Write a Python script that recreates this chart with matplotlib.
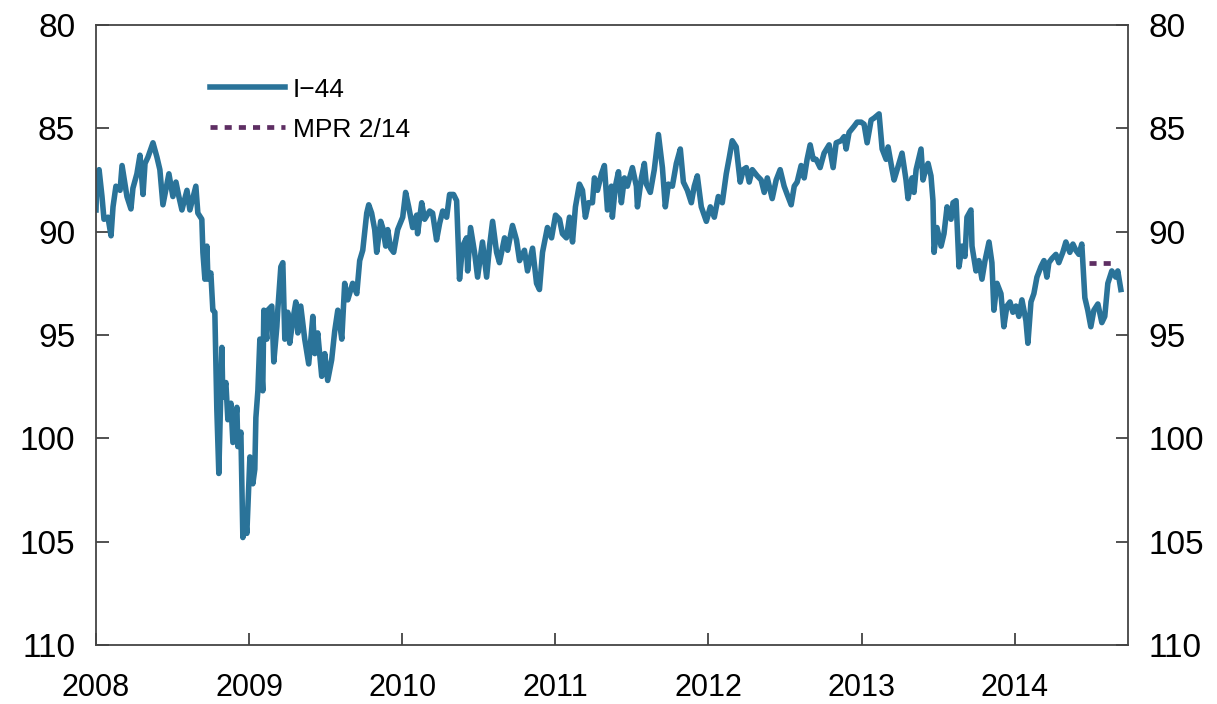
import numpy as np
import matplotlib
matplotlib.use("Agg")
import matplotlib.pyplot as plt

plt.rcParams["font.family"] = ["Liberation Sans", "DejaVu Sans"]

# I-44 index (decimal year, index value)
years = [
    2008.000, 2008.004, 2008.020, 2008.039, 2008.052, 2008.078, 2008.098, 2008.111,
    2008.130, 2008.157, 2008.170, 2008.202, 2008.228, 2008.241, 2008.267, 2008.287,
    2008.307, 2008.320, 2008.339, 2008.372, 2008.398, 2008.417, 2008.437, 2008.476,
    2008.502, 2008.522, 2008.541, 2008.561, 2008.594, 2008.613, 2008.652, 2008.665,
    2008.691, 2008.698, 2008.711, 2008.724, 2008.731, 2008.750, 2008.763, 2008.776,
    2008.789, 2008.802, 2008.822, 2008.828, 2008.848, 2008.861, 2008.881, 2008.894,
    2008.920, 2008.926, 2008.946, 2008.959, 2008.972, 2008.985, 2009.005, 2009.024,
    2009.037, 2009.044, 2009.057, 2009.070, 2009.089, 2009.096, 2009.115, 2009.122,
    2009.148, 2009.161, 2009.181, 2009.187, 2009.207, 2009.220, 2009.233, 2009.252,
    2009.265, 2009.285, 2009.305, 2009.318, 2009.337, 2009.350, 2009.363, 2009.389,
    2009.416, 2009.429, 2009.448, 2009.474, 2009.494, 2009.513, 2009.539, 2009.559,
    2009.579, 2009.605, 2009.624, 2009.644, 2009.676, 2009.703, 2009.722, 2009.742,
    2009.768, 2009.781, 2009.800, 2009.820, 2009.833, 2009.859, 2009.872, 2009.892,
    2009.905, 2009.924, 2009.944, 2009.970, 2010.003, 2010.022, 2010.042, 2010.068,
    2010.094, 2010.100, 2010.127, 2010.146, 2010.179, 2010.198, 2010.224, 2010.244,
    2010.264, 2010.290, 2010.309, 2010.335, 2010.355, 2010.374, 2010.394, 2010.420,
    2010.427, 2010.446, 2010.472, 2010.492, 2010.524, 2010.551, 2010.570, 2010.590,
    2010.616, 2010.635, 2010.668, 2010.688, 2010.720, 2010.746, 2010.766, 2010.798,
    2010.818, 2010.851, 2010.877, 2010.896, 2010.916, 2010.948, 2010.975, 2011.001,
    2011.027, 2011.046, 2011.072, 2011.092, 2011.112, 2011.131, 2011.157, 2011.177,
    2011.196, 2011.216, 2011.242, 2011.255, 2011.275, 2011.301, 2011.320, 2011.340,
    2011.366, 2011.372, 2011.392, 2011.412, 2011.431, 2011.451, 2011.470, 2011.503,
    2011.529, 2011.536, 2011.562, 2011.581, 2011.594, 2011.620, 2011.646, 2011.673,
    2011.699, 2011.718, 2011.738, 2011.764, 2011.790, 2011.816, 2011.836, 2011.862,
    2011.888, 2011.907, 2011.927, 2011.953, 2011.986, 2012.012, 2012.038, 2012.064,
    2012.090, 2012.116, 2012.136, 2012.155, 2012.181, 2012.207, 2012.227, 2012.247,
    2012.266, 2012.286, 2012.318, 2012.344, 2012.364, 2012.384, 2012.416, 2012.442,
    2012.468, 2012.494, 2012.514, 2012.540, 2012.560, 2012.579, 2012.605, 2012.625,
    2012.644, 2012.664, 2012.684, 2012.703, 2012.729, 2012.755, 2012.788, 2012.814,
    2012.834, 2012.866, 2012.886, 2012.899, 2012.918, 2012.951, 2012.971, 2012.997,
    2013.016, 2013.036, 2013.062, 2013.082, 2013.114, 2013.134, 2013.160, 2013.173,
    2013.199, 2013.212, 2013.232, 2013.264, 2013.290, 2013.303, 2013.329, 2013.342,
    2013.356, 2013.388, 2013.401, 2013.421, 2013.434, 2013.453, 2013.466, 2013.473,
    2013.492, 2013.519, 2013.538, 2013.558, 2013.584, 2013.597, 2013.617, 2013.636,
    2013.656, 2013.675, 2013.688, 2013.714, 2013.721, 2013.747, 2013.766, 2013.786,
    2013.806, 2013.832, 2013.851, 2013.864, 2013.884, 2013.910, 2013.929, 2013.949,
    2013.969, 2013.988, 2014.008, 2014.027, 2014.047, 2014.073, 2014.086, 2014.106,
    2014.125, 2014.145, 2014.171, 2014.191, 2014.210, 2014.223, 2014.243, 2014.269,
    2014.288, 2014.314, 2014.334, 2014.360, 2014.380, 2014.399, 2014.419, 2014.438,
    2014.458, 2014.477, 2014.497, 2014.517, 2014.543, 2014.569, 2014.588, 2014.608,
    2014.634, 2014.660, 2014.673, 2014.693,
]
i44 = [
    88.95, 87.8, 87.0, 88.3, 89.4, 89.3, 90.2, 88.8,
    87.8, 88.0, 86.8, 88.3, 88.9, 87.9, 87.2, 86.3,
    88.2, 86.7, 86.4, 85.7, 86.4, 87.0, 88.7, 87.2,
    88.3, 87.6, 88.3, 88.95, 88.0, 88.95, 87.8, 89.1,
    89.4, 91.0, 92.3, 90.7, 92.3, 92.0, 93.8, 93.9,
    98.6, 101.7, 95.6, 98.0, 97.3, 99.1, 98.3, 100.2,
    98.5, 100.4, 99.7, 104.8, 103.6, 104.6, 100.9, 102.2,
    101.5, 99.0, 97.7, 95.2, 97.7, 93.8, 95.2, 93.8,
    93.6, 96.3, 94.6, 93.8, 91.7, 91.5, 95.2, 93.9,
    95.4, 94.3, 93.4, 94.9, 93.6, 94.4, 95.2, 96.4,
    94.1, 95.9, 94.9, 97.0, 95.9, 97.2, 96.2, 94.8,
    93.8, 95.2, 92.5, 93.3, 92.5, 93.0, 91.4, 90.9,
    89.1, 88.7, 89.1, 89.9, 91.0, 89.5, 89.8, 90.7,
    89.9, 90.8, 91.0, 89.9, 89.3, 88.1, 88.8, 89.8,
    89.2, 90.1, 88.6, 89.4, 89.0, 89.1, 90.4, 89.6,
    89.0, 89.3, 88.2, 88.2, 88.5, 92.3, 90.7, 90.3,
    91.9, 89.8, 91.0, 92.2, 90.5, 92.2, 90.7, 89.5,
    91.0, 91.5, 90.3, 90.9, 89.7, 90.4, 91.4, 90.9,
    91.9, 90.8, 92.5, 92.8, 91.0, 89.8, 90.3, 89.2,
    89.4, 90.1, 90.3, 89.3, 90.5, 88.8, 87.7, 88.0,
    89.3, 88.6, 88.6, 87.4, 88.0, 87.2, 86.8, 88.95,
    87.8, 89.3, 87.8, 87.1, 88.6, 87.4, 87.8, 86.9,
    87.8, 88.8, 87.4, 86.7, 87.7, 88.1, 87.0, 85.3,
    86.9, 88.8, 87.7, 87.8, 86.7, 86.0, 87.6, 88.0,
    88.6, 87.8, 87.3, 88.8, 89.5, 88.8, 89.3, 88.3,
    88.6, 87.2, 86.4, 85.6, 85.9, 87.6, 87.0, 86.9,
    87.6, 87.0, 87.3, 87.5, 88.1, 87.4, 88.4, 87.5,
    87.0, 87.8, 88.2, 88.7, 87.8, 87.6, 86.8, 87.4,
    86.5, 85.8, 86.5, 86.5, 86.9, 86.2, 85.8, 86.9,
    85.7, 85.6, 85.4, 86.0, 85.2, 84.9, 84.7, 84.7,
    84.8, 85.7, 84.6, 84.5, 84.3, 86.0, 86.5, 85.9,
    87.0, 87.5, 87.0, 86.2, 87.5, 88.4, 87.4, 88.1,
    87.0, 86.0, 87.5, 86.9, 86.7, 87.3, 88.5, 91.0,
    89.8, 90.7, 90.1, 88.8, 89.4, 88.6, 88.5, 91.7,
    90.7, 91.2, 89.3, 88.95, 90.7, 91.9, 91.4, 92.3,
    91.4, 90.5, 91.5, 93.8, 92.5, 93.0, 94.6, 93.6,
    93.4, 93.9, 93.6, 94.1, 93.3, 94.3, 95.4, 93.4,
    93.0, 92.2, 91.7, 91.4, 92.2, 91.5, 91.3, 91.1,
    91.5, 91.0, 90.5, 91.0, 90.6, 90.9, 91.1, 90.6,
    93.2, 93.8, 94.6, 93.8, 93.5, 94.4, 94.1, 92.5,
    91.9, 92.2, 91.9, 92.8,
]

# MPR 2/14 assumption
mpr_years = [2014.484, 2014.660]
mpr = [91.5, 91.5]

yticks = [80, 85, 90, 95, 100, 105, 110]
xticks = [2008, 2009, 2010, 2011, 2012, 2013, 2014]

fig = plt.figure(figsize=(12.17, 7.04), dpi=100)
ax = fig.add_axes([0.0789, 0.0838, 0.848, 0.8807])

ax.plot(years, i44, color="#2a7399", lw=4.0, label="I\u221244", solid_joinstyle="round")
ax.plot(mpr_years, mpr, color="#5e2e63", lw=3.4, ls=(0, (1.5, 1.5)), label="MPR 2/14")

ax.set_xlim(2008, 2014.74)
ax.set_ylim(110, 80)
ax.set_yticks(yticks)
ax.set_xticks(xticks)
ax.set_xticklabels([str(x) for x in xticks])

ax.tick_params(axis="both", direction="in", length=9, width=1.2, color="#333333",
               right=True, labelright=True)
ax.tick_params(axis="y", pad=15, labelsize=24)
ax.tick_params(axis="x", pad=20, labelsize=22)
for sp in ax.spines.values():
    sp.set_color("#444444")
    sp.set_linewidth(1.3)

ax.legend(loc="upper left", bbox_to_anchor=(0.110, 0.915), frameon=False,
          fontsize=19, borderpad=0, borderaxespad=0, handlelength=2.85,
          handletextpad=0.3, labelspacing=0.6)

fig.savefig("out.png", dpi=100)
